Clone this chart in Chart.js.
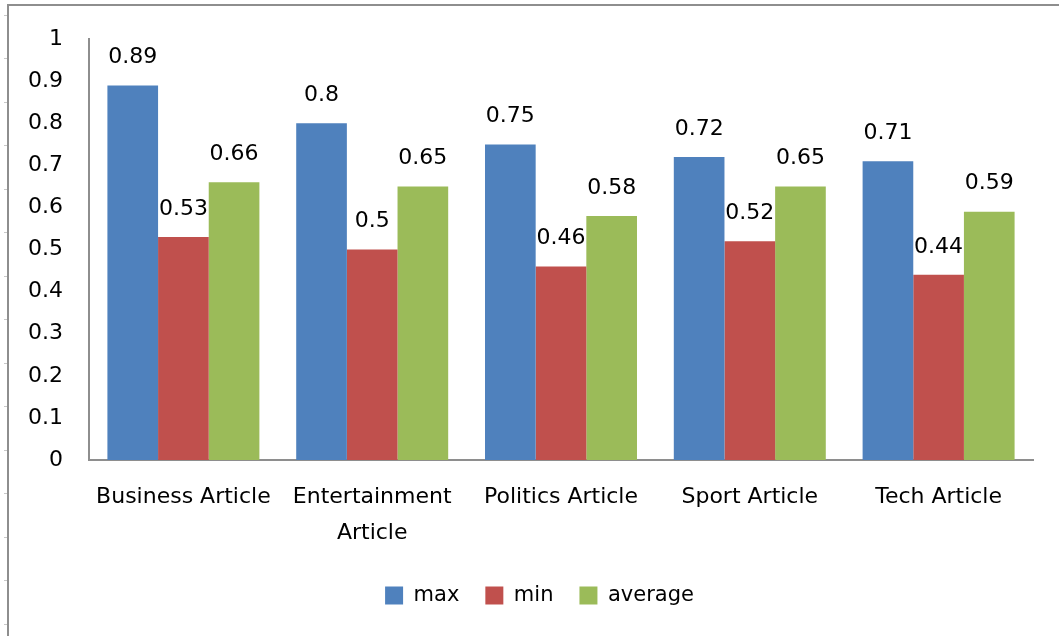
<!DOCTYPE html>
<html>
<head>
<meta charset="utf-8">
<script src="https://cdn.jsdelivr.net/npm/chart.js@4.4.1/dist/chart.umd.min.js"></script>
<style>
html,body{margin:0;padding:0;background:#fff;}
#wrap{width:1059px;height:636px;position:relative;}
</style>
</head>
<body>
<div id="wrap"><canvas id="c" width="1059" height="636"></canvas></div>
<script>
const categories = ["Business Article", ["Entertainment", "Article"], "Politics Article", "Sport Article", "Tech Article"];
const maxValues = [0.89, 0.8, 0.75, 0.72, 0.71];
const minValues = [0.53, 0.5, 0.46, 0.52, 0.44];
const avgValues = [0.66, 0.65, 0.58, 0.65, 0.59];
const seriesNames = ["max", "min", "average"];
const yTicks = [0, 0.1, 0.2, 0.3, 0.4, 0.5, 0.6, 0.7, 0.8, 0.9, 1];

const FONT = "'DejaVu Sans', sans-serif";

const framePlugin = {
  id: 'frame',
  afterLayout(chart) {
    if (chart.legend) {
      chart.legend.left += 23;
      chart.legend.right += 23;
    }
  },
  beforeDraw(chart) {
    const ctx = chart.ctx;
    ctx.save();
    ctx.fillStyle = '#fff';
    ctx.fillRect(0, 0, chart.width, chart.height);
    ctx.strokeStyle = '#8e8e8e';
    ctx.lineWidth = 2;
    ctx.beginPath();
    ctx.moveTo(8, 636);
    ctx.lineTo(8, 5);
    ctx.lineTo(1059, 5);
    ctx.stroke();
    ctx.strokeStyle = '#c8c8c8';
    ctx.lineWidth = 1;
    ctx.beginPath();
    for (let y = 14.5; y < 636; y += 43.5) {
      ctx.moveTo(4, Math.round(y) + 0.5);
      ctx.lineTo(7, Math.round(y) + 0.5);
    }
    ctx.stroke();
    ctx.restore();
  }
};

const labelPlugin = {
  id: 'valueLabels',
  afterDatasetsDraw(chart) {
    const ctx = chart.ctx;
    ctx.save();
    ctx.font = "22px " + FONT;
    ctx.fillStyle = '#000';
    ctx.textAlign = 'center';
    ctx.textBaseline = 'middle';
    chart.data.datasets.forEach((ds, i) => {
      const meta = chart.getDatasetMeta(i);
      meta.data.forEach((el, j) => {
        ctx.fillText(String(ds.data[j]), el.x, el.y - 28);
      });
    });
    ctx.restore();
  }
};

new Chart(document.getElementById('c'), {
  type: 'bar',
  data: {
    labels: categories,
    datasets: [
      { label: seriesNames[0], data: maxValues, backgroundColor: '#4F81BD' },
      { label: seriesNames[1], data: minValues, backgroundColor: '#C0504D' },
      { label: seriesNames[2], data: avgValues, backgroundColor: '#9BBB59' }
    ]
  },
  options: {
    responsive: false,
    animation: false,
    devicePixelRatio: 1,
    layout: { padding: { top: 37, right: 26, bottom: 20, left: 0 } },
    datasets: { bar: { barPercentage: 1.0, categoryPercentage: 0.805 } },
    scales: {
      x: {
        grid: { display: false, drawTicks: false },
        border: { display: true, color: '#8e8e8e', width: 2 },
        ticks: { color: '#000', font: { family: FONT, size: 22, lineHeight: 1.64 }, padding: 19, maxRotation: 0, autoSkip: false },
        afterFit(scale) { scale.height = 99; }
      },
      y: {
        min: 0, max: 1,
        afterBuildTicks(scale) { scale.ticks = yTicks.map(v => ({ value: v })); },
        grid: { display: false, drawTicks: false },
        border: { display: true, color: '#8e8e8e', width: 2 },
        ticks: { color: '#000', font: { family: FONT, size: 22 }, padding: 26, callback: v => String(v) },
        afterFit(scale) { scale.width = 89; }
      }
    },
    plugins: {
      legend: {
        position: 'bottom',
        labels: { boxWidth: 18, boxHeight: 18, padding: 26, color: '#000', font: { family: FONT, size: 21 } }
      },
      tooltip: { enabled: false }
    }
  },
  plugins: [framePlugin, labelPlugin]
});
</script>
</body>
</html>
